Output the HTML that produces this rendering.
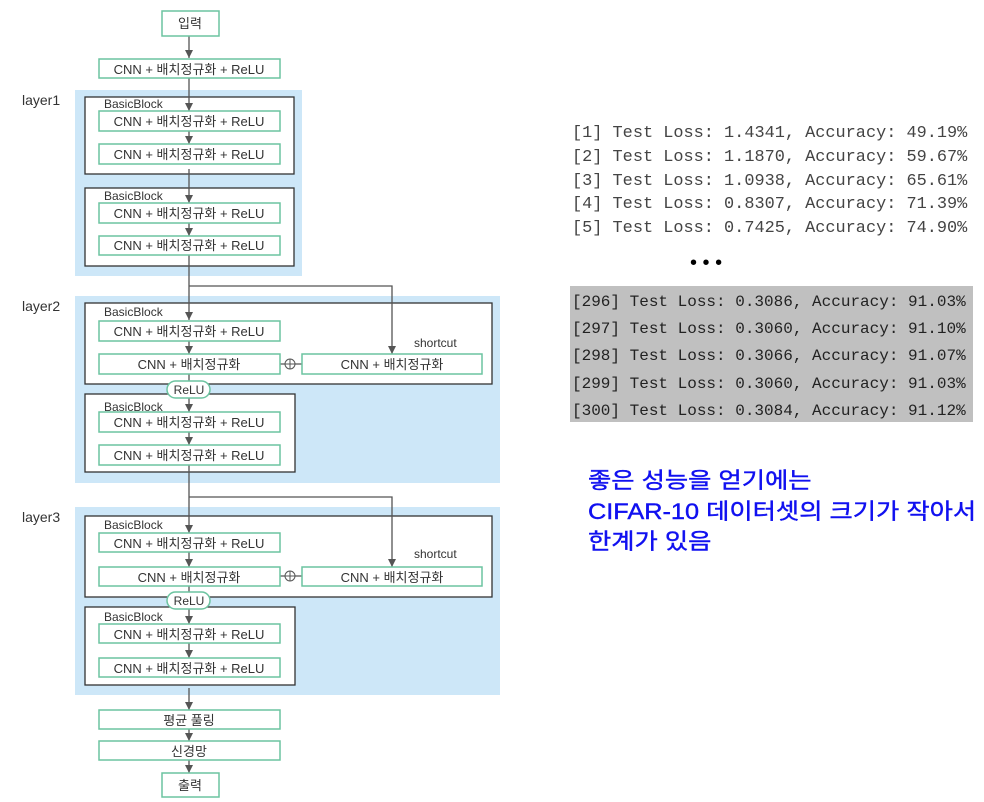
<!DOCTYPE html>
<html><head><meta charset="utf-8"><style>
body{margin:0;background:#fff;width:984px;height:802px;overflow:hidden;position:relative;font-family:"Liberation Sans","Noto Sans CJK KR",sans-serif}
svg text{font-family:"Liberation Sans","Noto Sans CJK KR",sans-serif;fill:#333}
.m{position:absolute;font-family:"Liberation Mono","DejaVu Sans Mono",monospace;color:#333;white-space:pre;margin:0}
</style></head><body>
<svg width="984" height="802" style="position:absolute;left:0;top:0">
<defs>
<marker id="d" markerWidth="8" markerHeight="8" refX="4" refY="8" markerUnits="userSpaceOnUse"><path d="M0,0 L8,0 L4,8z" fill="#555"/></marker></defs>
<g fill="#cde7f8"><rect x="75" y="90" width="227" height="186"/><rect x="75" y="296" width="425" height="187"/><rect x="75" y="507" width="425" height="188"/></g>
<g fill="#fff" stroke="#333" stroke-width="1.3">
<rect x="85" y="97" width="209" height="77"/><rect x="85" y="188" width="209" height="78"/>
<rect x="85" y="303" width="407" height="81"/><rect x="85" y="394" width="210" height="78"/>
<rect x="85" y="516" width="407" height="81"/><rect x="85" y="607" width="210" height="78"/>
</g>
<g stroke="#555" stroke-width="1.3" fill="none">
<line x1="189" y1="36" x2="189" y2="58" marker-end="url(#d)"/>
<line x1="189" y1="78" x2="189" y2="111" marker-end="url(#d)"/>
<line x1="189" y1="131" x2="189" y2="144" marker-end="url(#d)"/>
<line x1="189" y1="169" x2="189" y2="203" marker-end="url(#d)"/>
<line x1="189" y1="223" x2="189" y2="236" marker-end="url(#d)"/>
<line x1="189" y1="255" x2="189" y2="320" marker-end="url(#d)"/>
<polyline points="189,286 392,286 392,354" marker-end="url(#d)"/>
<line x1="189" y1="341" x2="189" y2="354" marker-end="url(#d)"/>
<line x1="189" y1="374" x2="189" y2="412" marker-end="url(#d)"/>
<line x1="189" y1="432" x2="189" y2="445" marker-end="url(#d)"/>
<line x1="189" y1="465" x2="189" y2="533" marker-end="url(#d)"/>
<polyline points="189,497 392,497 392,567" marker-end="url(#d)"/>
<line x1="189" y1="552" x2="189" y2="567" marker-end="url(#d)"/>
<line x1="189" y1="586" x2="189" y2="624" marker-end="url(#d)"/>
<line x1="189" y1="643" x2="189" y2="658" marker-end="url(#d)"/>
<line x1="189" y1="688" x2="189" y2="710" marker-end="url(#d)"/>
<line x1="189" y1="729" x2="189" y2="741" marker-end="url(#d)"/>
<line x1="189" y1="760" x2="189" y2="773" marker-end="url(#d)"/>
<line x1="280" y1="364" x2="302" y2="364"/><line x1="280" y1="576" x2="302" y2="576"/>
</g>
<g fill="#fff" stroke="#6cc4a0" stroke-width="1.5">
<rect x="162" y="11" width="57" height="25"/><rect x="99" y="59" width="181" height="19"/>
<rect x="99" y="111" width="181" height="20"/><rect x="99" y="144" width="181" height="20"/>
<rect x="99" y="203" width="181" height="20"/><rect x="99" y="236" width="181" height="19"/>
<rect x="99" y="321" width="181" height="20"/><rect x="99" y="354" width="181" height="20"/><rect x="302" y="354" width="180" height="20"/>
<rect x="99" y="412" width="181" height="20"/><rect x="99" y="445" width="181" height="20"/>
<rect x="99" y="533" width="181" height="19"/><rect x="99" y="567" width="181" height="19"/><rect x="302" y="567" width="180" height="19"/>
<rect x="99" y="624" width="181" height="19"/><rect x="99" y="658" width="181" height="19"/>
<rect x="99" y="710" width="181" height="19"/><rect x="99" y="741" width="181" height="19"/><rect x="162" y="773" width="57" height="24"/>
<rect x="167" y="381" width="43" height="17" rx="8.5"/><rect x="167" y="592" width="43" height="17" rx="8.5"/>
</g>
<g stroke="#555" fill="#fff" stroke-width="1"><circle cx="290" cy="364" r="5"/><circle cx="290" cy="576" r="5"/></g>
<g stroke="#555" stroke-width="1"><line x1="285" y1="364" x2="295" y2="364"/><line x1="290" y1="359" x2="290" y2="369"/><line x1="285" y1="576" x2="295" y2="576"/><line x1="290" y1="571" x2="290" y2="581"/></g>
<g font-size="13" text-anchor="middle">
<text x="190" y="28">입력</text>
<text x="189" y="74">CNN + 배치정규화 + ReLU</text>
<text x="189" y="126">CNN + 배치정규화 + ReLU</text><text x="189" y="159">CNN + 배치정규화 + ReLU</text>
<text x="189" y="218">CNN + 배치정규화 + ReLU</text><text x="189" y="250">CNN + 배치정규화 + ReLU</text>
<text x="189" y="336">CNN + 배치정규화 + ReLU</text><text x="189" y="369">CNN + 배치정규화</text><text x="392" y="369">CNN + 배치정규화</text>
<text x="189" y="427">CNN + 배치정규화 + ReLU</text><text x="189" y="460">CNN + 배치정규화 + ReLU</text>
<text x="189" y="548">CNN + 배치정규화 + ReLU</text><text x="189" y="582">CNN + 배치정규화</text><text x="392" y="582">CNN + 배치정규화</text>
<text x="189" y="639">CNN + 배치정규화 + ReLU</text><text x="189" y="673">CNN + 배치정규화 + ReLU</text>
<text x="189" y="725">평균 풀링</text><text x="189" y="756">신경망</text><text x="190" y="790">출력</text>
<text x="189" y="394" font-size="12">ReLU</text><text x="189" y="605" font-size="12">ReLU</text>
</g>
<g font-size="12"><text x="104" y="108">BasicBlock</text><text x="104" y="200">BasicBlock</text><text x="104" y="316">BasicBlock</text><text x="104" y="411">BasicBlock</text><text x="104" y="529">BasicBlock</text><text x="104" y="621">BasicBlock</text>
<text x="414" y="347">shortcut</text><text x="414" y="558">shortcut</text></g>
<g font-size="14"><text x="22" y="105">layer1</text><text x="22" y="311">layer2</text><text x="22" y="522">layer3</text></g>
</svg>
<div class="m" style="left:572px;top:122px;font-size:16.9px;line-height:23.8px;color:#444">[1] Test Loss: 1.4341, Accuracy: 49.19%
[2] Test Loss: 1.1870, Accuracy: 59.67%
[3] Test Loss: 1.0938, Accuracy: 65.61%
[4] Test Loss: 0.8307, Accuracy: 71.39%
[5] Test Loss: 0.7425, Accuracy: 74.90%</div>
<div style="position:absolute;left:690px;top:252px;font-size:20px;color:#000">• • •</div>
<div style="position:absolute;left:570px;top:286px;width:403px;height:136px;background:#c0c0c0"></div>
<div class="m" style="left:572px;top:289px;font-size:16px;line-height:27.2px;color:#222">[296] Test Loss: 0.3086, Accuracy: 91.03%
[297] Test Loss: 0.3060, Accuracy: 91.10%
[298] Test Loss: 0.3066, Accuracy: 91.07%
[299] Test Loss: 0.3060, Accuracy: 91.03%
[300] Test Loss: 0.3084, Accuracy: 91.12%</div>
<div style="position:absolute;left:588px;top:466px;font-size:22px;line-height:30.5px;color:#1010f0;white-space:nowrap;transform:scaleX(1.15);transform-origin:0 0;-webkit-text-stroke:0.4px #1010f0">좋은 성능을 얻기에는<br>CIFAR-10 데이터셋의 크기가 작아서<br>한계가 있음</div>
</body></html>
